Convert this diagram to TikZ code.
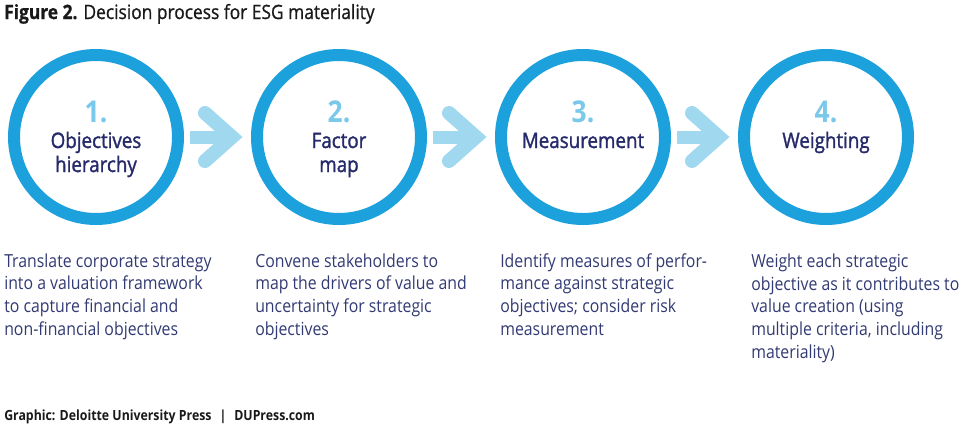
\documentclass[tikz,border=0pt]{standalone}
\usepackage{fontspec}
\setmainfont{Open Sans}[FakeStretch=0.88]
\newfontfamily\labelfont{Open Sans}[FakeStretch=0.88, FakeBold=1.4]
\newfontfamily\titlefont{Open Sans}[FakeStretch=0.88, FakeBold=0.8]
\usetikzlibrary{calc}
\definecolor{ringblue}{RGB}{28,161,220}
\definecolor{arrowblue}{RGB}{160,216,240}
\definecolor{numblue}{RGB}{122,200,234}
\definecolor{labelnavy}{RGB}{37,42,106}
\definecolor{textnavy}{RGB}{50,58,115}
\definecolor{titleblack}{RGB}{25,25,25}
\tikzset{
	ring/.style={circle, draw=ringblue, line width=9pt, fill=white, minimum size=123pt, inner sep=0pt},
	shaft/.style={draw=arrowblue, line width=9.75pt},
	chevron/.style={draw=arrowblue, line width=10.5pt, line cap=round},
	num/.style={text=numblue, font=\bfseries\fontsize{22.5}{26}\selectfont, inner sep=0pt, anchor=base},
	lbl/.style={text=labelnavy, font=\labelfont\fontsize{16}{18}\selectfont, align=center, inner sep=0pt, anchor=base},
	desc/.style={text=textnavy, font=\fontsize{13.5}{17}\selectfont, align=left, inner sep=0pt, anchor=base west},
}
\begin{document}
\begin{tikzpicture}[x=0.75pt,y=0.75pt,yscale=-1,xscale=1]
			\useasboundingbox (0,0) rectangle (975,433);
			
			% Title
			\node [anchor=base west, inner sep=0pt, text=titleblack, font=\titlefont\fontsize{14.8}{17}\selectfont] (title) at (4,19) {\textbf{Figure 2.} Decision process for ESG materiality};
			
			% Circles
			\node [ring] (c1) at (96,137) {};
			\node [ring] (c2) at (339,137) {};
			\node [ring] (c3) at (583,137) {};
			\node [ring] (c4) at (826,137) {};
			
			% Arrow 1 -> 2
			\draw [shaft] ($(c1.east)+(6,0)$) -- ($(c2.west)+(-20,0)$) ;
			\draw [chevron] ($(c2.west)+(-46,-24)$) -- ($(c2.west)+(-19,0)$) -- ($(c2.west)+(-46,24)$) ;
			% Arrow 2 -> 3
			\draw [shaft] ($(c2.east)+(6,0)$) -- ($(c3.west)+(-20,0)$) ;
			\draw [chevron] ($(c3.west)+(-46,-24)$) -- ($(c3.west)+(-19,0)$) -- ($(c3.west)+(-46,24)$) ;
			% Arrow 3 -> 4
			\draw [shaft] ($(c3.east)+(6,0)$) -- ($(c4.west)+(-20,0)$) ;
			\draw [chevron] ($(c4.west)+(-46,-24)$) -- ($(c4.west)+(-19,0)$) -- ($(c4.west)+(-46,24)$) ;
			
			% Text Node (base = last line)
			\node [num] (n1) at ($(c1)+(0,-15)$) {1.};
			\node [lbl] (l1) at ($(c1)+(0,35)$) {Objectives\\hierarchy};
			% Text Node
			\node [num] (n2) at ($(c2)+(0,-15)$) {2.};
			\node [lbl] (l2) at ($(c2)+(0,35)$) {Factor\\map};
			% Text Node
			\node [num] (n3) at ($(c3)+(0,-15)$) {3.};
			\node [lbl] (l3) at ($(c3)+(0,11)$) {Measurement};
			% Text Node
			\node [num] (n4) at ($(c4)+(0,-15)$) {4.};
			\node [lbl] (l4) at ($(c4)+(0,11)$) {Weighting};
			
			% Text Node
			\node [desc] (d1) at (4,335) {Translate corporate strategy\\into a valuation framework\\to capture financial and\\non-financial objectives};
			% Text Node
			\node [desc] (d2) at (255,335) {Convene stakeholders to\\map the drivers of value and\\uncertainty for strategic\\objectives};
			% Text Node
			\node [desc] (d3) at (500,335) {Identify measures of perfor-\\mance against strategic\\objectives; consider risk\\measurement};
			% Text Node
			\node [desc] (d4) at (751,358) {Weight each strategic\\objective as it contributes to\\value creation (using\\multiple criteria, including\\materiality)};
			
			% Text Node
			\node [anchor=base west, inner sep=0pt, text=titleblack, font=\bfseries\fontsize{10.5}{12}\selectfont] (credit) at (4,420) {Graphic: Deloitte University Press\hspace{6pt}|\hspace{6pt}DUPress.com};
		\end{tikzpicture}
\end{document}
